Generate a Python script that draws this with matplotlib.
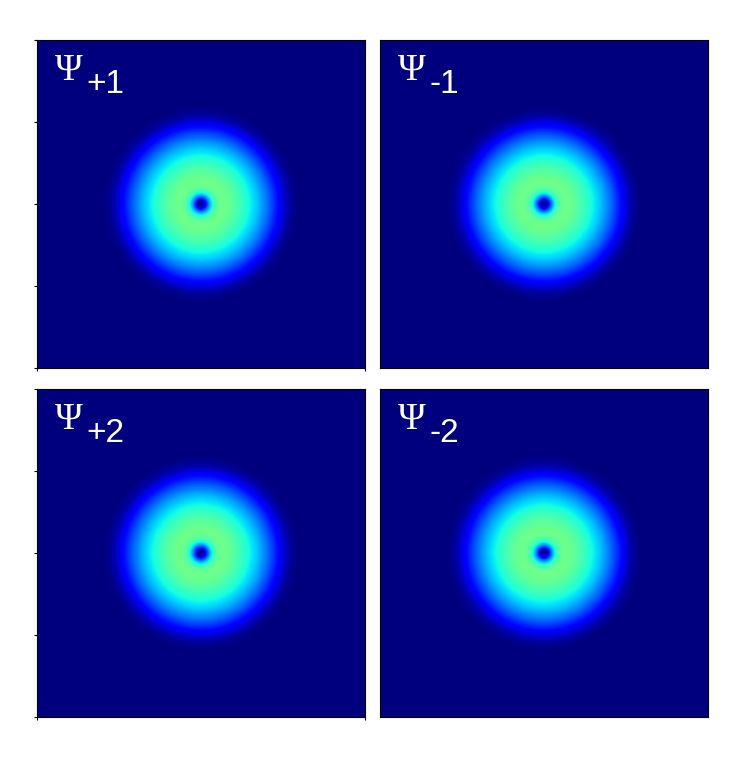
import numpy as np
import matplotlib
matplotlib.use("Agg")
import matplotlib.pyplot as plt

# panel labels (Psi subscripts) and vortex model parameters, one per panel
subscripts = ["+1", "-1", "+2", "-2"]
amplitude = [0.53, 0.53, 0.53, 0.53]     # peak density (colour scale 0..1)
cloud_radius = [4.35, 4.35, 4.35, 4.35]  # Thomas-Fermi radius
edge_soft = [0.08, 0.08, 0.08, 0.08]     # softening of the cloud edge
core_size = [0.44, 0.44, 0.44, 0.44]     # healing length of the vortex core
centre_x = [0.0, 0.0, 0.0, 0.0]
centre_y = [0.0, 0.0, 0.0, 0.0]

L = 8.0
N = 300
yticks = [-8, -4, 0, 4, 8]
xticks = [-8, 8]

x = np.linspace(-L, L, N)
X, Y = np.meshgrid(x, x)


def density(i):
    r = np.hypot(X - centre_x[i], Y - centre_y[i])
    u = 1 - (r / cloud_radius[i]) ** 2
    s = edge_soft[i]
    tf = s * np.logaddexp(0, u / s)
    return amplitude[i] * tf * np.tanh(r / core_size[i]) ** 2


fig = plt.figure(figsize=(7.45, 7.58), dpi=100)
W, H = 745.0, 758.0
lefts = [37, 380, 37, 380]
tops = [40, 40, 389, 389]
size = 328

for i in range(4):
    ax = fig.add_axes([lefts[i] / W, 1 - (tops[i] + size) / H, size / W, size / H])
    ax.imshow(density(i), cmap="jet", vmin=0, vmax=1, origin="lower",
              extent=[-L, L, -L, L], interpolation="bilinear")
    for s in ax.spines.values():
        s.set_linewidth(0.8)
    ax.tick_params(length=2, width=0.8, direction="out",
                   labelleft=False, labelbottom=False)
    if i % 2 == 0:
        ax.set_yticks(yticks)
        ax.set_xticks(xticks)
    else:
        ax.set_yticks([])
        ax.set_xticks([])
    ax.text(0.055, 0.878, "Ψ", color="white", fontsize=27,
            family="Liberation Serif", transform=ax.transAxes, va="baseline")
    ax.text(0.150, 0.838, subscripts[i], color="white", fontsize=24,
            family="Liberation Sans", transform=ax.transAxes, va="baseline")

fig.savefig("out.png", dpi=100)
